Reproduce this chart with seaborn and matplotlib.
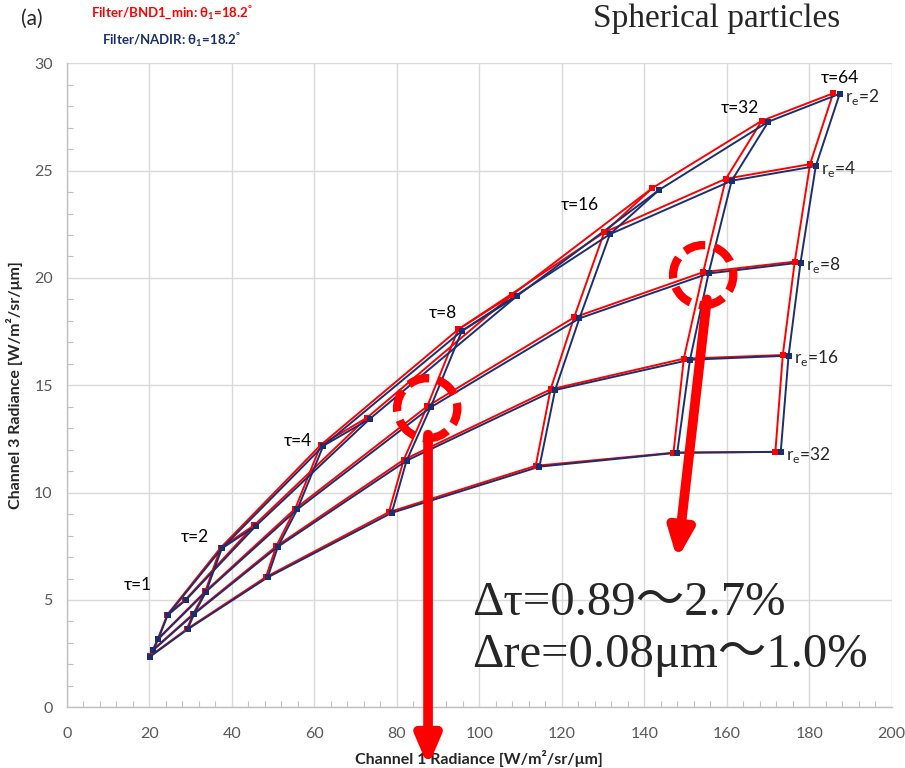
import numpy as np
import pandas as pd
import matplotlib
matplotlib.use("Agg")
import matplotlib.pyplot as plt
import seaborn as sns
from matplotlib.patches import Ellipse

# LUT grid: rows = tau, columns = r_e
tau_vals = [1, 2, 4, 8, 16, 32, 64]
re_vals = [2, 4, 8, 16, 32]

nadir_x = [
    [28.9, 24.5, 22.2, 21.0, 20.2],
    [45.8, 37.6, 33.8, 30.9, 29.3],
    [73.5, 62.2, 55.9, 51.2, 48.7],
    [109.1, 95.8, 88.2, 82.4, 78.8],
    [143.6, 131.7, 124.3, 118.4, 114.6],
    [170.1, 161.2, 155.6, 151.1, 148.0],
    [187.4, 181.6, 177.9, 175.0, 173.1],
]
nadir_y = [
    [5.00, 4.30, 3.18, 2.67, 2.36],
    [8.44, 7.40, 5.39, 4.35, 3.63],
    [13.44, 12.18, 9.22, 7.48, 6.05],
    [19.15, 17.53, 13.97, 11.49, 9.06],
    [24.10, 22.04, 18.12, 14.78, 11.21],
    [27.28, 24.53, 20.21, 16.19, 11.86],
    [28.58, 25.21, 20.72, 16.38, 11.90],
]
bnd1_x = [
    [28.8, 24.4, 22.1, 20.9, 20.1],
    [45.4, 37.3, 33.6, 30.7, 29.1],
    [72.8, 61.6, 55.4, 50.8, 48.3],
    [107.9, 94.9, 87.4, 81.7, 78.1],
    [142.0, 130.3, 123.0, 117.3, 113.7],
    [168.5, 159.8, 154.3, 149.6, 147.1],
    [185.8, 180.2, 176.5, 173.6, 171.8],
]
bnd1_y = [
    [5.02, 4.32, 3.19, 2.68, 2.37],
    [8.47, 7.43, 5.40, 4.36, 3.64],
    [13.49, 12.22, 9.25, 7.50, 6.07],
    [19.20, 17.60, 14.02, 11.53, 9.09],
    [24.19, 22.12, 18.16, 14.81, 11.25],
    [27.32, 24.62, 20.27, 16.24, 11.86],
    [28.60, 25.30, 20.76, 16.41, 11.90],
]

# label positions for the tau labels (data units)
tau_label_x = [17.3, 31.1, 56.1, 91.2, 124.4, 163.2, 187.5]
tau_label_y = [5.7, 7.95, 12.4, 18.35, 23.4, 27.9, 29.3]

RED = "#ff0000"
NAVY = "#1b2f6e"


def grid_frame(xs, ys, name):
    rows = []
    for i, t in enumerate(tau_vals):
        for j, r in enumerate(re_vals):
            # iso-re lines (ordered by tau) and iso-tau lines (ordered by re)
            rows.append((name, "re%d" % r, i, xs[i][j], ys[i][j]))
            rows.append((name, "tau%d" % t, j, xs[i][j], ys[i][j]))
    df = pd.DataFrame(rows, columns=["series", "line", "order", "x", "y"])
    df["unit"] = df["series"] + "_" + df["line"]
    return df.sort_values(["unit", "order"])


red_df = grid_frame(bnd1_x, bnd1_y, "BND1")
blue_df = grid_frame(nadir_x, nadir_y, "NADIR")

sns.set_theme(style="white")
plt.rcParams["font.family"] = ["Lato", "DejaVu Sans"]

fig = plt.figure(figsize=(9.05, 7.68), dpi=100)
ax = fig.add_axes([0.0737, 0.079, 0.9116, 0.8386])

for df, col in [(red_df, RED), (blue_df, NAVY)]:
    sns.lineplot(data=df, x="x", y="y", units="unit", estimator=None, sort=False,
                 color=col, lw=1.4, ax=ax, legend=False)
    pts = df.drop_duplicates(["x", "y"])
    sns.scatterplot(data=pts, x="x", y="y", marker="s", s=14, color=col,
                    edgecolor=col, linewidth=0, ax=ax, legend=False, zorder=3)

ax.set_xlim(0, 200)
ax.set_ylim(0, 30)
ax.set_xticks(np.arange(0, 201, 20))
ax.set_yticks(np.arange(0, 31, 5))
ax.set_xticks(np.arange(0, 201, 4), minor=True)
ax.set_yticks(np.arange(0, 31, 1), minor=True)
ax.grid(True, which="major", color="#d9d9d9", lw=1)
ax.set_axisbelow(True)
ax.tick_params(axis="both", which="major", length=0, labelsize=11.5,
               labelcolor="#595959")
ax.tick_params(axis="x", which="major", pad=14)
ax.tick_params(axis="y", which="major", pad=10)
ax.tick_params(axis="both", which="minor", direction="in", length=4,
               color="#bfbfbf", width=0.8)
ax.tick_params(axis="x", which="minor", bottom=True)
ax.tick_params(axis="y", which="minor", left=True)
for side in ["top", "right"]:
    ax.spines[side].set_visible(False)
for side in ["left", "bottom"]:
    ax.spines[side].set_color("#bfbfbf")
    ax.spines[side].set_linewidth(1)

ax.set_xlabel("Channel 1 Radiance [W/m²/sr/μm]", fontsize=11.5,
              fontweight="bold", labelpad=7)
ax.set_ylabel("Channel 3 Radiance [W/m²/sr/μm]", fontsize=11.5,
              fontweight="bold", labelpad=8)

# tau labels
for t, lx, ly in zip(tau_vals, tau_label_x, tau_label_y):
    ax.text(lx, ly, "τ=%d" % t, fontsize=12.5, ha="center", va="center",
            color="black")

# r_e labels next to the tau=64 end of each curve
for j, r in enumerate(re_vals):
    ax.annotate("r$_\\mathregular{e}$=%d" % r, xy=(nadir_x[-1][j], nadir_y[-1][j]),
                xytext=(4, -2), textcoords="offset points", fontsize=12.5,
                ha="left", va="center")

# dashed highlight circles
for cx, cy in [(87.4, 13.93), (154.3, 20.13)]:
    ax.add_patch(Ellipse((cx, cy), width=14.6, height=2.8, fill=False,
                         edgecolor=RED, lw=6, linestyle=(0, (2.6, 1.1)),
                         zorder=5, clip_on=False))

# red arrows
head = "-|>,head_length=1.4,head_width=0.6"
ax.annotate("", xy=(87.6, -2.75), xytext=(87.6, 12.7),
            arrowprops=dict(arrowstyle=head, color=RED, lw=7, shrinkA=0, shrinkB=0),
            annotation_clip=False, zorder=6)
ax.annotate("", xy=(148.0, 6.9), xytext=(155.2, 19.0),
            arrowprops=dict(arrowstyle=head, color=RED, lw=7, shrinkA=0, shrinkB=0),
            annotation_clip=False, zorder=6)

serif = ["Liberation Serif", "Noto Sans CJK JP", "DejaVu Serif"]
ax.text(98.3, 4.86, "Δτ=0.89～2.7%", fontsize=35, family=serif,
        ha="left", va="center")
ax.text(98.3, 2.44, "Δre=0.08μm～1.0%", fontsize=35, family=serif,
        ha="left", va="center")

fig.text(0.792, 0.976, "Spherical particles", fontsize=24, family=serif,
         ha="center", va="center")
fig.text(0.035, 0.975, "(a)", fontsize=15, ha="center", va="center")
fig.text(0.19, 0.983, "Filter/BND1_min: θ$_\\mathregular{1}$=18.2$^\\mathregular{°}$",
         fontsize=9.5, fontweight="bold", color=RED, ha="center", va="center")
fig.text(0.19, 0.948, "Filter/NADIR: θ$_\\mathregular{1}$=18.2$^\\mathregular{°}$",
         fontsize=9.5, fontweight="bold", color=NAVY, ha="center", va="center")

fig.savefig("out.png", dpi=100)
